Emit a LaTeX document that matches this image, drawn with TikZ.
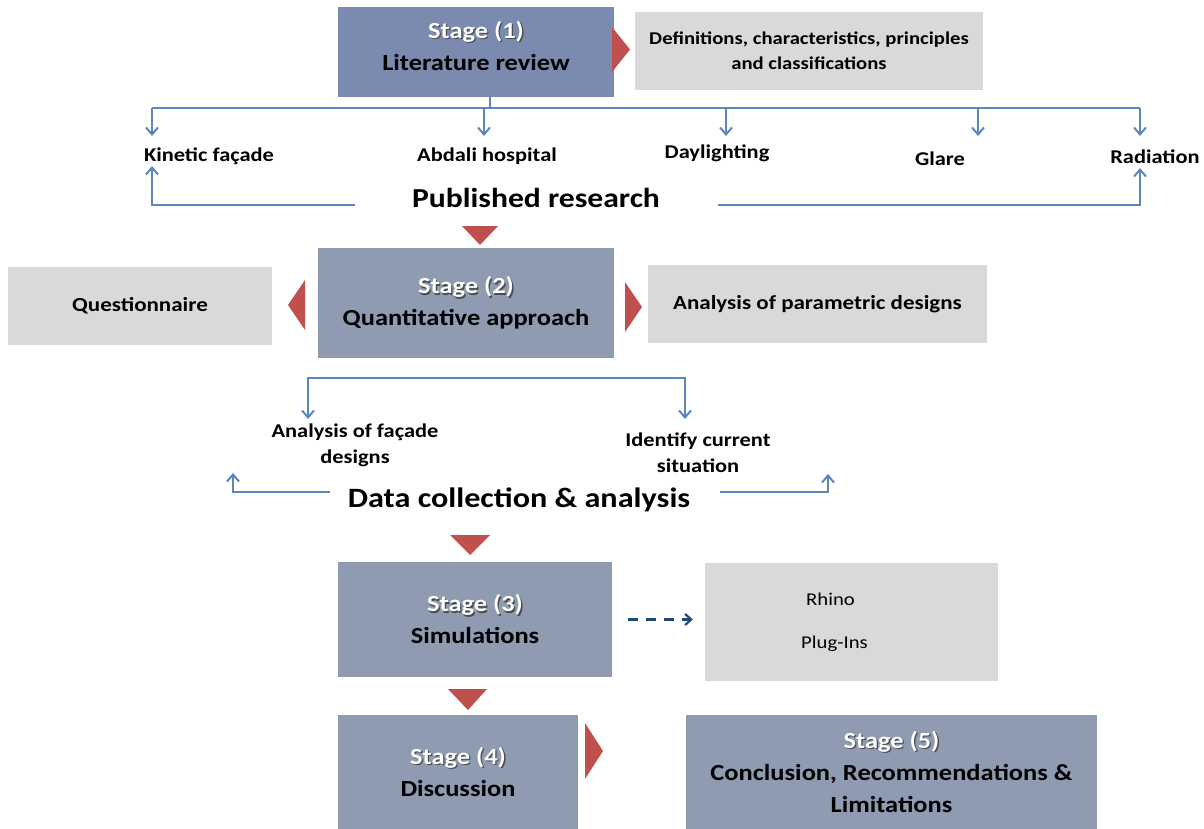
\documentclass[tikz,border=0pt]{standalone}
\usepackage{fontspec}
\setmainfont{Carlito}[FakeStretch=1.15]
\usetikzlibrary{arrows.meta}
\definecolor{stagec}{HTML}{8E9BB1}
\definecolor{stageone}{HTML}{7B8BB0}
\definecolor{lightc}{HTML}{D9D9D9}
\definecolor{redc}{HTML}{C0504D}
\definecolor{linec}{HTML}{5A85BF}
\definecolor{dashc}{HTML}{1F497D}
\newcommand\shtxt[1]{{\rlap{\kern1.3pt\raisebox{-1.3pt}{\color{black!70}#1}}\color{white}#1}}
\begin{document}
\begin{tikzpicture}[x=1pt,y=-1pt,
  stagebox/.style={fill=stagec, draw=none, align=center, inner sep=0pt,
    font=\bfseries\fontsize{23}{32}\selectfont},
  lightbox/.style={fill=lightc, draw=none, align=center, inner sep=0pt,
    font=\bfseries\fontsize{20}{25}\selectfont},
  lbl/.style={align=center, inner sep=0pt, font=\bfseries\fontsize{19.5}{26}\selectfont},
  bigl/.style={inner sep=0pt, font=\bfseries\fontsize{28}{32}\selectfont},
  ln/.style={draw=linec, line width=2pt},
  arr/.style={ln, -{Straight Barb[length=7pt,width=12pt,line width=2pt]}},
  arrboth/.style={ln, {Straight Barb[length=7pt,width=12pt,line width=2pt]}-{Straight Barb[length=7pt,width=12pt,line width=2pt]}},
  tri/.style={fill=redc, draw=none}]
\useasboundingbox (0,0) rectangle (1204,829);

% ---- Stage 1
\node[stagebox, fill=stageone, minimum width=276pt, minimum height=90pt] (s1) at (476,52)
  {\shtxt{Stage (1)}\\Literature review\rule[-12pt]{0pt}{0pt}};
\node[lightbox, minimum width=348pt, minimum height=78pt, font=\bfseries\fontsize{18}{25}\selectfont] (def) at (809,51)
  {Definitions, characteristics, principles\\and classifications};
\fill[tri] (612,27) -- (630,49.5) -- (612,72) -- cycle;

% bus
\coordinate (b0) at (490,97);
\coordinate (bt) at (490,108);
\coordinate (bl) at (152,108);
\coordinate (br) at (1140,108);
\draw[ln] (b0) -- (bt);
\draw[ln] (bl) -- (br);

\node[lbl] (kin) at (209,156) {Kinetic façade};
\node[lbl] (abd) at (487,156) {Abdali hospital};
\node[lbl] (day) at (717,153) {Daylighting};
\node[lbl] (gla) at (940,159) {Glare};
\node[lbl] (rad) at (1155,157) {Radiation};

\coordinate (a1) at (152,136);
\coordinate (a2) at (484,136);
\coordinate (a3) at (726,136);
\coordinate (a4) at (978,136);
\coordinate (a5) at (1140,136);
\draw[arr] (bl) -- (a1);
\draw[arr] (bl -| a2) -- (a2);
\draw[arr] (bl -| a3) -- (a3);
\draw[arr] (bl -| a4) -- (a4);
\draw[arr] (br) -- (a5);

\node[bigl, font=\bfseries\fontsize{27.5}{32}\selectfont] (pub) at (536,198) {Published research};
\coordinate (p1) at (355,205);
\coordinate (pk) at (152,166);
\coordinate (p2) at (718,205);
\coordinate (pr) at (1140,168);
\draw[arr] (p1) -| (pk);
\draw[arr] (p2) -| (pr);

\fill[tri] (462,226) -- (498,226) -- (480,245) -- cycle;

% ---- Stage 2
\node[stagebox, minimum width=296pt, minimum height=110pt] (s2) at (466,303)
  {\shtxt{Stage (2)}\\Quantitative approach};
\node[lightbox, minimum width=264pt, minimum height=78pt] (q) at (140,306) {Questionnaire};
\node[lightbox, minimum width=339pt, minimum height=78pt] (apd) at (817.5,304) {Analysis of parametric designs};
\fill[tri] (305,280) -- (288,305) -- (305,330) -- cycle;
\fill[tri] (625,282) -- (642,307) -- (625,332) -- cycle;

% ---- data bracket
\coordinate (d1) at (308,419);
\coordinate (d2) at (685,419);
\draw[arrboth] (d1) -- (308,378) -- (685,378) -- (d2);
\node[lbl] (afd) at (355,445) {Analysis of façade\\designs};
\node[lbl] (ics) at (698,453) {Identify current\\situation};

\node[bigl] (dca) at (519,500) {Data collection \& analysis};
\coordinate (c1) at (330,492);
\coordinate (cl) at (233,473);
\coordinate (c2) at (720,492);
\coordinate (cr) at (828,474);
\draw[arr] (c1) -| (cl);
\draw[arr] (c2) -| (cr);

\fill[tri] (450,535) -- (490,535) -- (470,555) -- cycle;

% ---- Stage 3
\node[stagebox, minimum width=274pt, minimum height=115pt] (s3) at (475,619.5)
  {\shtxt{Stage (3)}\\Simulations};
\node[fill=lightc, draw=none, align=center, inner sep=0pt, minimum width=293pt, minimum height=118pt,
  font=\fontsize{18}{25}\selectfont] (rh) at (851.5,622) {\hspace*{-42pt}Rhino\\[18pt]\hspace*{-34pt}Plug-Ins};
\draw[draw=dashc, line width=2.2pt, dash pattern=on 10pt off 8pt,
  -{Straight Barb[length=6pt,width=11pt,line width=2.2pt]}, shorten <=16pt, shorten >=12pt] (s3.east) -- (rh.west |- s3.east);

\fill[tri] (448,689) -- (487,689) -- (468,710) -- cycle;

% ---- Stage 4 and 5
\node[stagebox, minimum width=240pt, minimum height=114pt] (s4) at (458,772)
  {\shtxt{Stage (4)}\\Discussion};
\node[stagebox, minimum width=411pt, minimum height=114pt] (s5) at (891.5,772)
  {\shtxt{Stage (5)}\\Conclusion, Recommendations \&\\Limitations};
\fill[tri] (585,723) -- (603,751) -- (585,779) -- cycle;
\end{tikzpicture}
\end{document}
